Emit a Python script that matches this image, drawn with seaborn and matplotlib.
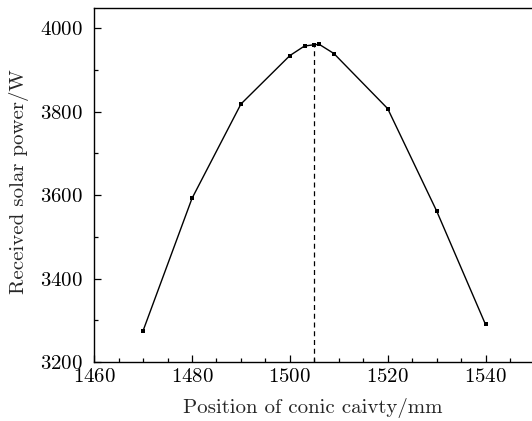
import matplotlib
matplotlib.use("Agg")
import matplotlib.pyplot as plt
import seaborn as sns
import pandas as pd
from matplotlib.ticker import MultipleLocator

# positions of the conic cavity (mm) and received power (W)
position = [1470, 1480, 1490, 1500, 1503, 1505, 1506, 1509, 1520, 1530, 1540]
power = [3275, 3592, 3818, 3934, 3957, 3960, 3961, 3939, 3807, 3562, 3290]
best_position = 1505

sns.set_style("ticks")
plt.rcParams["font.family"] = ["cmr10", "DejaVu Serif"]
plt.rcParams["axes.formatter.use_mathtext"] = True
plt.rcParams["mathtext.fontset"] = "cm"

df = pd.DataFrame({"position": position, "power": power})

fig = plt.figure(figsize=(5.32, 4.21), dpi=100)
ax = fig.add_axes([0.177, 0.140, 0.823, 0.841])

sns.lineplot(data=df, x="position", y="power", ax=ax, color="black",
             linewidth=1.0, marker="s", markersize=2.2, markeredgewidth=0)
ax.axvline(best_position, color="black", linestyle=(0, (4, 3)), linewidth=0.9,
           ymax=(df["power"].max() - 3200) / (4048 - 3200))

ax.set_xlim(1460, 1549.5)
ax.set_ylim(3200, 4048)
ax.xaxis.set_major_locator(MultipleLocator(20))
ax.xaxis.set_minor_locator(MultipleLocator(5))
ax.yaxis.set_major_locator(MultipleLocator(200))
ax.yaxis.set_minor_locator(MultipleLocator(100))
ax.tick_params(which="both", direction="in", labelsize=15, colors="black",
               top=False, right=False)
ax.tick_params(which="major", length=5, width=0.9)
ax.tick_params(which="minor", length=3, width=0.9)
ax.tick_params(axis="y", which="major", pad=8)
ax.tick_params(axis="x", which="major", pad=4)

for s in ["left", "bottom", "top"]:
    ax.spines[s].set_linewidth(1.0)
    ax.spines[s].set_color("black")
ax.spines["right"].set_visible(False)

ax.set_xlabel("Position of conic caivty/mm", fontsize=15, labelpad=9)
ax.set_ylabel("Received solar power/W", fontsize=15, labelpad=9)
ax.yaxis.set_label_coords(-0.148, 0.51)

fig.savefig("out.png", dpi=100)
